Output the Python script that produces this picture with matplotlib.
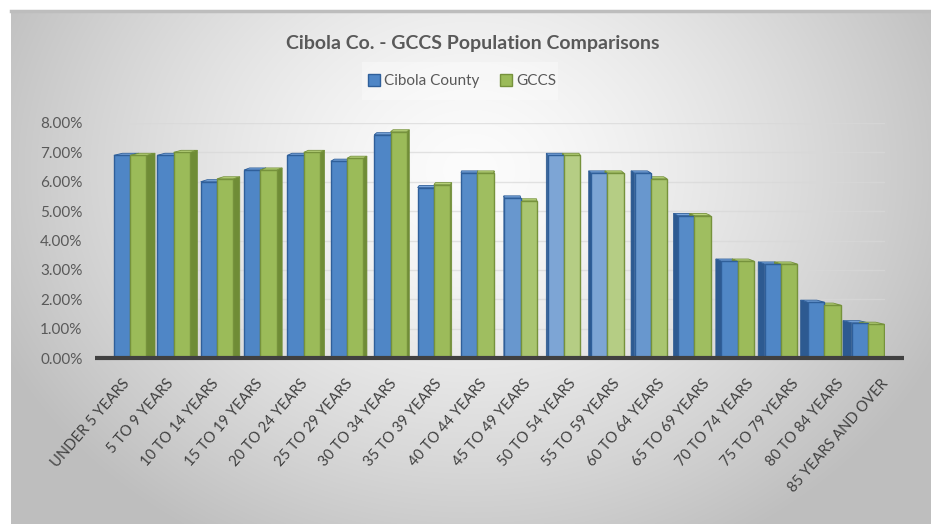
"""Cibola Co. vs GCCS population share by age group (3D-look clustered bars)."""
import matplotlib.pyplot as plt
import numpy as np
from matplotlib.patches import Patch, Polygon
from matplotlib.ticker import FuncFormatter

AGE_GROUPS = [
    "UNDER 5 YEARS", "5 TO 9 YEARS", "10 TO 14 YEARS", "15 TO 19 YEARS",
    "20 TO 24 YEARS", "25 TO 29 YEARS", "30 TO 34 YEARS", "35 TO 39 YEARS",
    "40 TO 44 YEARS", "45 TO 49 YEARS", "50 TO 54 YEARS", "55 TO 59 YEARS",
    "60 TO 64 YEARS", "65 TO 69 YEARS", "70 TO 74 YEARS", "75 TO 79 YEARS",
    "80 TO 84 YEARS", "85 YEARS AND OVER",
]
CIBOLA = [6.9, 6.9, 6.0, 6.4, 6.9, 6.7, 7.6, 5.8, 6.3, 5.45, 6.9, 6.3, 6.3, 4.85, 3.3, 3.2, 1.9, 1.2]
GCCS = [6.9, 7.0, 6.1, 6.4, 7.0, 6.8, 7.7, 5.9, 6.3, 5.35, 6.9, 6.3, 6.1, 4.85, 3.3, 3.2, 1.8, 1.15]
Y_TICKS = [0, 1, 2, 3, 4, 5, 6, 7, 8]
SERIES = ["Cibola County", "GCCS"]

W, H = 931, 524
FONT = ["Lato", "DejaVu Sans"]
plt.rcParams["font.family"] = FONT

# front, side, top, edge
BLUE = ("#4f86c6", "#2d5a91", "#7aa6dc", "#2f5f9a")
GREEN = ("#9bbb59", "#6f8c36", "#b9d47c", "#76923c")


def lighten(color, amount):
    rgb = np.array(plt.matplotlib.colors.to_rgb(color))
    return tuple(rgb + (1 - rgb) * amount)


fig = plt.figure(figsize=(W / 100, H / 100), dpi=100)

# background panel with a soft radial gradient
bg = fig.add_axes([0, 0, 1, 1], zorder=0)
bg.set_xlim(0, W)
bg.set_ylim(H, 0)
bg.axis("off")
yy, xx = np.mgrid[10:H, 11:W]
dist = np.sqrt(((xx - 470) / 520.0) ** 2 + ((yy - 170) / 430.0) ** 2)
shade = (252 - 62 * np.clip(dist, 0, 1) ** 1.4) / 255.0
bg.imshow(np.dstack([shade] * 3), extent=(11, W, H, 10), aspect="auto", interpolation="bilinear")
bg.plot([11, W], [11, 11], color="#bdbdbd", lw=2.5)
bg.add_patch(plt.Rectangle((362, 62), 196, 38, color="white", alpha=0.35, lw=0))

ax = fig.add_axes([113 / W, 1 - 358 / H, 772 / W, 235 / H], zorder=1)
ax.patch.set_alpha(0)
ax.set_xlim(-0.5, len(AGE_GROUPS) - 0.5)
ax.set_ylim(0, 8)
for side in ax.spines.values():
    side.set_visible(False)

n = len(AGE_GROUPS)
idx = np.arange(n)
depth_x = 0.2 * (8.5 - idx) / 8.5  # perspective: sides on the right on the left half
depth_y = 0.07
w = 0.38
centers = idx - depth_x / 2

for values, colors, x0s in ((CIBOLA, BLUE, centers - w), (GCCS, GREEN, centers)):
    for i, (v, x0) in enumerate(zip(values, x0s)):
        dx = depth_x[i]
        xs = x0 + w if dx > 0 else x0
        ax.add_patch(Polygon([(xs, 0), (xs + dx, depth_y), (xs + dx, v + depth_y), (xs, v)],
                             closed=True, fc=colors[1], ec=colors[1], lw=0.5, zorder=2))
        ax.add_patch(Polygon([(x0, v), (x0 + dx, v + depth_y), (x0 + w + dx, v + depth_y), (x0 + w, v)],
                             closed=True, fc=colors[2], ec=colors[3], lw=0.6, zorder=2))

light = 0.28 * np.exp(-((idx - 10.5) / 1.8) ** 2)
ax.bar(centers - w / 2, CIBOLA, width=w, color=[lighten(BLUE[0], a) for a in light],
       edgecolor=BLUE[3], lw=1, zorder=3)
ax.bar(centers + w / 2, GCCS, width=w, color=[lighten(GREEN[0], a) for a in light],
       edgecolor=GREEN[3], lw=1, zorder=3)

# floor line
ax.plot([-0.023, 1.025], [0, 0], transform=ax.transAxes, color="#404040", lw=3,
        solid_capstyle="butt", clip_on=False, zorder=4)

ax.set_yticks(Y_TICKS)
ax.yaxis.set_major_formatter(FuncFormatter(lambda v, _p: f"{v:.2f}%"))
ax.tick_params(axis="y", length=0, pad=22, labelsize=11, labelcolor="#595959")
ax.set_xticks([])
ax.set_axisbelow(True)
ax.grid(axis="y", color="#d8d8d8", lw=1, alpha=0.7)

for i, label in enumerate(AGE_GROUPS):
    ax.text(0.018 + i * 0.0578, -0.098, label, transform=ax.transAxes, rotation=49,
            rotation_mode="anchor", ha="right", va="center", fontsize=10.5, color="#404040")

fig.text(473 / W, 1 - 44 / H, "Cibola Co. - GCCS Population Comparisons", ha="center", va="center",
         fontsize=14, fontweight="bold", color="#595959")

handles = [Patch(fc=BLUE[0], ec=BLUE[3]), Patch(fc=GREEN[0], ec=GREEN[3])]
fig.legend(handles, SERIES, loc="center", bbox_to_anchor=(462 / W, 1 - 81 / H), ncol=2,
           frameon=False, fontsize=11, labelcolor="#595959", handlelength=0.8, handleheight=0.8,
           handletextpad=0.3, columnspacing=1.3)

fig.savefig("out.png", dpi=100)
